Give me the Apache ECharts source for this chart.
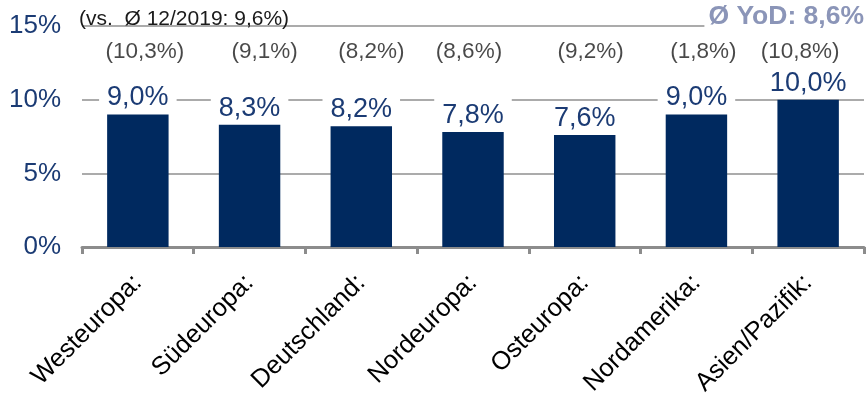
<!DOCTYPE html>
<html>
<head>
<meta charset="utf-8">
<script src="https://cdn.jsdelivr.net/npm/echarts@6/dist/echarts.min.js"></script>
<style>html,body{margin:0;padding:0;background:#fff}#c{width:867px;height:393px}</style>
</head>
<body>
<div id="c"></div>
<script>
const categories = ['Westeuropa:', 'Südeuropa:', 'Deutschland:', 'Nordeuropa:', 'Osteuropa:', 'Nordamerika:', 'Asien/Pazifik:'];
const values = [9.0, 8.3, 8.2, 7.8, 7.6, 9.0, 10.0];
const priorValues = [10.3, 9.1, 8.2, 8.6, 9.2, 1.8, 10.8];
const priorLabelLevel = 13.25;
const yTicks = [0, 5, 10, 15];
const noteLeft = '(vs.  Ø 12/2019: 9,6%)';
const noteRight = 'Ø YoD: 8,6%';

const fmt = v => v.toFixed(1).replace('.', ',') + '%';
const navy = '#00295f';
const labelNavy = '#1b3b74';
const priorNudge = [7, 15, 10, -4, 6, 7, -8];

const chart = echarts.init(document.getElementById('c'));
chart.setOption({
  animation: false,
  backgroundColor: '#fff',
  title: [
    { text: noteLeft, left: 74, top: 4, textStyle: { fontFamily: 'Liberation Sans', fontSize: 21, fontWeight: 'normal', color: '#1a1a1a' } },
    { text: noteRight, right: 1, top: 1, backgroundColor: '#fff', padding: [2, 2, 2, 4], textStyle: { fontFamily: 'Liberation Sans', fontSize: 26.5, fontWeight: 'bold', color: '#8b95b8' } }
  ],
  grid: { left: 82, right: 3, top: 26, bottom: 146, containLabel: false, outerBoundsMode: 'none' },
  xAxis: {
    type: 'category',
    data: categories,
    axisLine: { lineStyle: { color: '#8c8c8c', width: 3 } },
    axisTick: { show: true, length: 7, lineStyle: { color: '#8c8c8c', width: 3 } },
    axisLabel: { rotate: 45, margin: 32, fontFamily: 'Liberation Sans', fontSize: 25.5, color: '#000' }
  },
  yAxis: {
    type: 'value', min: yTicks[0], max: yTicks[yTicks.length - 1], interval: 5,
    axisLine: { show: false }, axisTick: { show: false },
    splitLine: { lineStyle: { color: '#ababab', width: 2 } },
    axisLabel: { formatter: v => v + '%', margin: 21, fontFamily: 'Liberation Sans', fontSize: 26, color: labelNavy }
  },
  series: [
    {
      type: 'bar',
      data: values,
      barWidth: '55%',
      itemStyle: { color: navy },
      label: {
        show: true, position: 'top', distance: 2,
        formatter: p => fmt(p.value),
        fontFamily: 'Liberation Sans', fontSize: 27, color: labelNavy,
        backgroundColor: '#fff', padding: [3, 8, 1, 8]
      },
      z: 3
    },
    {
      type: 'scatter',
      data: priorValues.map((v, i) => ({ value: [i, priorLabelLevel], label: { offset: [priorNudge[i], 0] } })),
      symbolSize: 0,
      label: {
        show: true, position: 'inside',
        formatter: p => '(' + fmt(priorValues[p.dataIndex]) + ')',
        fontFamily: 'Liberation Sans', fontSize: 22.5, color: '#1a1a1a'
      },
      silent: true
    }
  ]
});
</script>
</body>
</html>
